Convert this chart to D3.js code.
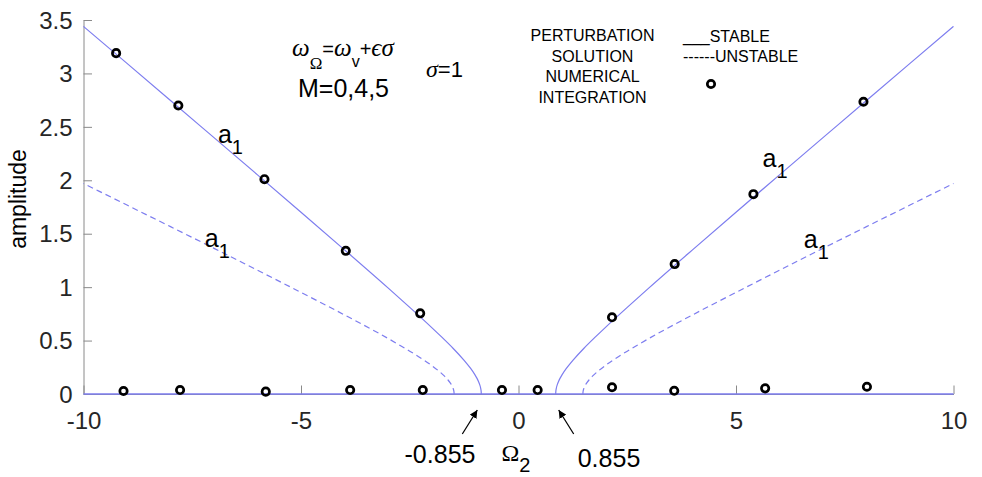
<!DOCTYPE html>
<html>
<head>
<meta charset="utf-8">
<script src="https://cdn.jsdelivr.net/npm/d3@7"></script>
<style>
  html, body { margin: 0; padding: 0; background: #fff; }
  svg { display: block; font-family: "Liberation Sans", Arial, sans-serif; }
</style>
</head>
<body>
<svg id="chart" width="982" height="477"></svg>
<script>
// Frequency-response branches (positive detuning; the curves are symmetric in Ω2)
const stableOmega = [0.855, 0.86, 0.87, 0.89, 0.92, 0.96, 1.0, 1.1, 1.25, 1.5, 1.75, 2, 2.5, 3, 4, 5, 6, 7, 8, 9, 10];
const stableAmp   = [0, 0.032, 0.056, 0.085, 0.117, 0.151, 0.179, 0.239, 0.315, 0.426, 0.527, 0.624, 0.811, 0.993, 1.349, 1.701, 2.051, 2.399, 2.747, 3.094, 3.44];

const unstableOmega = [1.48, 1.485, 1.5, 1.53, 1.57, 1.62, 1.7, 1.8, 2, 2.25, 2.5, 3, 4, 5, 6, 7, 8, 9, 10];
const unstableAmp   = [0, 0.024, 0.049, 0.077, 0.104, 0.131, 0.167, 0.204, 0.268, 0.338, 0.401, 0.52, 0.74, 0.951, 1.158, 1.363, 1.566, 1.768, 1.97];

// Trivial solution a1 = 0
const trivialOmega = [-10, 10];
const trivialAmp   = [0, 0];

// Numerical integration results
const numOmega = [-9.25, -7.82, -5.84, -3.97, -2.26, 2.15, 3.59, 5.40, 7.93,
                  -9.08, -7.78, -5.81, -3.87, -2.20, -0.38, 0.44, 2.15, 3.58, 5.67, 8.01];
const numAmp   = [3.19, 2.70, 2.01, 1.34, 0.755, 0.718, 1.216, 1.87, 2.735,
                  0.028, 0.037, 0.022, 0.037, 0.037, 0.037, 0.037, 0.063, 0.03, 0.053, 0.068];

const xTicks = [-10, -5, 0, 5, 10];
const yTicks = [0, 0.5, 1, 1.5, 2, 2.5, 3, 3.5];
const bifurcation = [-0.855, 0.855];

const svg = d3.select("#chart");
const x = d3.scaleLinear().domain([-10, 10]).range([83.5, 953.5]);
const y = d3.scaleLinear().domain([0, 3.5]).range([394, 20]);

const lineColor = "#7d7def";
const axisColor = "#8a8a8a";
const tickText = "#262626";

// Axes
const yAxis = d3.axisLeft(y).tickValues(yTicks).tickSizeInner(-8.5).tickSizeOuter(0)
  .tickPadding(11).tickFormat(d3.format("~g"));
const gy = svg.append("g").attr("transform", `translate(${x(-10)},0)`).call(yAxis);
const xAxis = d3.axisBottom(x).tickValues(xTicks).tickSizeInner(-8.5).tickSizeOuter(0)
  .tickPadding(0).tickFormat(d => d < 0 ? "-" + Math.abs(d) : String(d));
const gx = svg.append("g").attr("transform", `translate(0,${y(0)})`).call(xAxis);
[gx, gy].forEach(g => {
  g.select(".domain").attr("stroke", axisColor).attr("stroke-width", 1);
  g.selectAll(".tick line").attr("stroke", axisColor).attr("stroke-width", 1);
  g.selectAll(".tick text").attr("fill", tickText).attr("font-size", 24)
    .attr("font-family", "Liberation Sans, Arial, sans-serif");
});
gx.selectAll(".tick text").attr("dy", null).attr("y", 35);
gy.selectAll(".tick text").attr("dy", "0.34em");

// Curves
const mono = d3.line().x(d => x(d[0])).y(d => y(d[1])).curve(d3.curveMonotoneY);
const straight = d3.line().x(d => x(d[0])).y(d => y(d[1]));
const plot = svg.append("g");

plot.append("path")
  .attr("d", straight(trivialOmega.map((w, i) => [w, trivialAmp[i]])))
  .attr("fill", "none").attr("stroke", lineColor).attr("stroke-width", 1.3);

[-1, 1].forEach(sign => {
  plot.append("path")
    .attr("d", mono(stableOmega.map((w, i) => [sign * w, stableAmp[i]])))
    .attr("fill", "none").attr("stroke", lineColor).attr("stroke-width", 1.2);
  plot.append("path")
    .attr("d", mono(unstableOmega.map((w, i) => [sign * w, unstableAmp[i]])))
    .attr("fill", "none").attr("stroke", lineColor).attr("stroke-width", 1.2)
    .attr("stroke-dasharray", "6,4");
});

// Numerical points
plot.selectAll("circle.num").data(numOmega.map((w, i) => [w, numAmp[i]]))
  .join("circle").attr("class", "num")
  .attr("cx", d => x(d[0])).attr("cy", d => y(d[1])).attr("r", 3.7)
  .attr("fill", "none").attr("stroke", "#000").attr("stroke-width", 2.7);

// Branch labels a1
const branchLabels = [[-6.91, 2.346], [-7.21, 1.378], [5.61, 2.127], [6.56, 1.369]];
branchLabels.forEach(([w, a]) => {
  const t = svg.append("text").attr("x", x(w)).attr("y", y(a)).attr("font-size", 25).attr("fill", "#000");
  t.append("tspan").text("a");
  t.append("tspan").attr("dy", 11).attr("font-size", 20).text("1");
});

// Equation block
const serif = "Liberation Serif, Times New Roman, serif";
const eq = svg.append("text").attr("x", 292).attr("y", 56).attr("font-size", 22).attr("fill", "#000");
eq.append("tspan").attr("font-family", serif).attr("font-style", "italic").attr("font-size", 25).text("ω");
eq.append("tspan").attr("font-family", serif).attr("font-size", 17).attr("dy", 13).text("Ω");
eq.append("tspan").attr("font-size", 20).attr("dy", -13).text("=");
eq.append("tspan").attr("font-family", serif).attr("font-style", "italic").attr("font-size", 25).text("ω");
eq.append("tspan").attr("font-size", 16).attr("dy", 11).text("v");
eq.append("tspan").attr("font-size", 20).attr("dy", -11).text("+");
eq.append("tspan").attr("font-family", serif).attr("font-style", "italic").attr("font-size", 25).text("ϵσ");

svg.append("text").attr("x", 298).attr("y", 97).attr("font-size", 25).attr("fill", "#000").text("M=0,4,5");

const sg = svg.append("text").attr("x", 426).attr("y", 77).attr("font-size", 22).attr("fill", "#000");
sg.append("tspan").attr("font-family", serif).attr("font-style", "italic").attr("font-size", 24).text("σ");
sg.append("tspan").text("=1");

// Legend
const legendLeft = ["PERTURBATION", "SOLUTION", "NUMERICAL", "INTEGRATION"];
legendLeft.forEach((s, i) => {
  svg.append("text").attr("x", 592.5).attr("y", 41 + i * 20.6).attr("text-anchor", "middle")
    .attr("font-size", 16).attr("fill", "#000").text(s);
});
svg.append("text").attr("x", 683).attr("y", 41.5).attr("font-size", 16).attr("fill", "#000").text("___STABLE");
svg.append("text").attr("x", 683).attr("y", 61.5).attr("font-size", 16).attr("fill", "#000").text("------UNSTABLE");
svg.append("circle").attr("cx", 711).attr("cy", 84).attr("r", 3.7)
  .attr("fill", "none").attr("stroke", "#000").attr("stroke-width", 2.7);

// Axis titles
svg.append("text").attr("transform", "translate(26,199) rotate(-90)").attr("text-anchor", "middle")
  .attr("font-size", 23).attr("fill", "#000").text("amplitude");
const om = svg.append("text").attr("x", x(0) - 17).attr("y", 461).attr("font-size", 24).attr("fill", "#000");
om.append("tspan").attr("font-family", serif).text("Ω");
om.append("tspan").attr("dy", 11).attr("font-size", 20).text("2");

// Bifurcation points with arrows
svg.append("defs").append("marker").attr("id", "arrow").attr("viewBox", "0 0 10 10")
  .attr("refX", 10).attr("refY", 5).attr("markerWidth", 8).attr("markerHeight", 8)
  .attr("markerUnits", "userSpaceOnUse").attr("orient", "auto")
  .append("path").attr("d", "M0,0 L10,5 L0,10 z").attr("fill", "#000");

const arrowDx = [-1, 1];
bifurcation.forEach((b, i) => {
  const tipX = x(b) + (i === 0 ? -4 : 3);
  const tipY = y(0) + 16;
  svg.append("line").attr("x1", tipX + arrowDx[i] * 15).attr("y1", tipY + 24)
    .attr("x2", tipX).attr("y2", tipY).attr("stroke", "#000").attr("stroke-width", 1.2)
    .attr("marker-end", "url(#arrow)");
  svg.append("text").attr("x", i === 0 ? 440 : 609).attr("y", i === 0 ? 463 : 467)
    .attr("text-anchor", "middle").attr("font-size", 25).attr("fill", "#000")
    .text(b < 0 ? "-" + Math.abs(b) : String(b));
});
</script>
</body>
</html>
